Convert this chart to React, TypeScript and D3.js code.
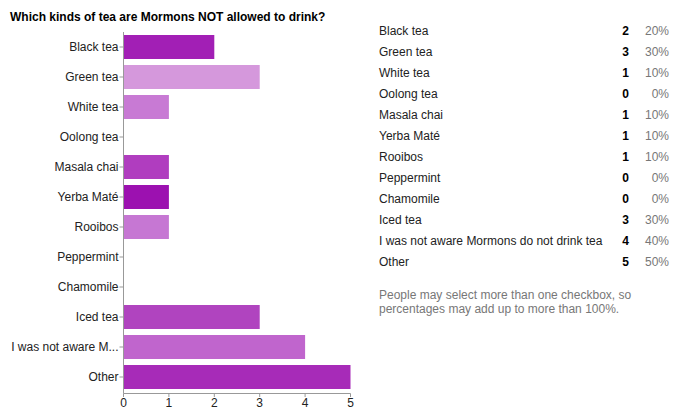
import * as d3 from "d3";
import React from 'react'

const categories = ["Black tea", "Green tea", "White tea", "Oolong tea", "Masala chai", "Yerba Maté", "Rooibos", "Peppermint", "Chamomile", "Iced tea", "I was not aware Mormons do not drink tea", "Other"]
const counts = [2, 3, 1, 0, 1, 1, 1, 0, 0, 3, 4, 5]
const percents = ["20%", "30%", "10%", "0%", "10%", "10%", "10%", "0%", "0%", "30%", "40%", "50%"]
const barColors = ["#a21fb5", "#d598dc", "#c87ad4", "#b03fbf", "#b03dbf", "#9c11b0", "#c677d3", "#c064cc", "#c064cc", "#b044bf", "#c065cd", "#a72bb8"]
const xTicks = [0, 1, 2, 3, 4, 5]
const title = "Which kinds of tea are Mormons NOT allowed to drink?"
const note = ["People may select more than one checkbox, so", "percentages may add up to more than 100%."]

const W = 681, H = 420
const font = "'Liberation Sans', Arial, sans-serif"

// axis labels get cut like the original
const shortLabel = (s: string) => s.length > 20 ? s.slice(0, 17) + "..." : s

const App: React.FC = () => {
  const x = d3.scaleLinear([0, 5], [123.5, 350.5])
  const y = d3.scaleBand(categories, [32, 392]).paddingInner(0.2).paddingOuter(0.1)
  const ly = d3.scaleLinear([0, categories.length - 1], [30.7, 262])

  return (
    <svg width={W} height={H} style={{ position: "absolute", left: 0, top: 0, fontFamily: font }}>
      <rect width={W} height={H} fill="#fff" />
      <text x={10} y={20.5} fontSize={12} fontWeight="bold" fill="#000">{title}</text>

      {categories.map((c, i) => (
        <g key={c}>
          {counts[i] > 0 && <rect x={x(0)} y={y(c)} width={x(counts[i]) - x(0)} height={y.bandwidth()} fill={barColors[i]} />}
          <line x1={x(0) - 4} x2={x(0)} y1={y(c)! + y.bandwidth() / 2} y2={y(c)! + y.bandwidth() / 2} stroke="#999" />
          <text x={x(0) - 5} y={y(c)! + y.bandwidth() / 2} dy="0.35em" textAnchor="end" fontSize={12} fill="#222">{shortLabel(c)}</text>
        </g>
      ))}
      <line x1={x(0)} x2={x(0)} y1={32} y2={393.5} stroke="#999" />
      <line x1={x(0)} x2={x(5)} y1={393.5} y2={393.5} stroke="#999" />
      {xTicks.map(t => (
        <g key={t}>
          <line x1={x(t)} x2={x(t)} y1={393.5} y2={397} stroke="#999" />
          <text x={x(t)} y={403} dy="0.35em" textAnchor="middle" fontSize={12} fill="#222">{t}</text>
        </g>
      ))}

      {categories.map((c, i) => (
        <g key={"l" + c} fontSize={12}>
          <text x={379} y={ly(i)} dy="0.35em" fill="#222">{c}</text>
          <text x={629} y={ly(i)} dy="0.35em" textAnchor="end" fontWeight="bold" fill="#000">{counts[i]}</text>
          <text x={669} y={ly(i)} dy="0.35em" textAnchor="end" fill="#777">{percents[i]}</text>
        </g>
      ))}
      {note.map((n, i) => (
        <text key={n} x={379} y={295 + i * 14} dy="0.35em" fontSize={12} fill="#777">{n}</text>
      ))}
    </svg>
  )
}

export default App
